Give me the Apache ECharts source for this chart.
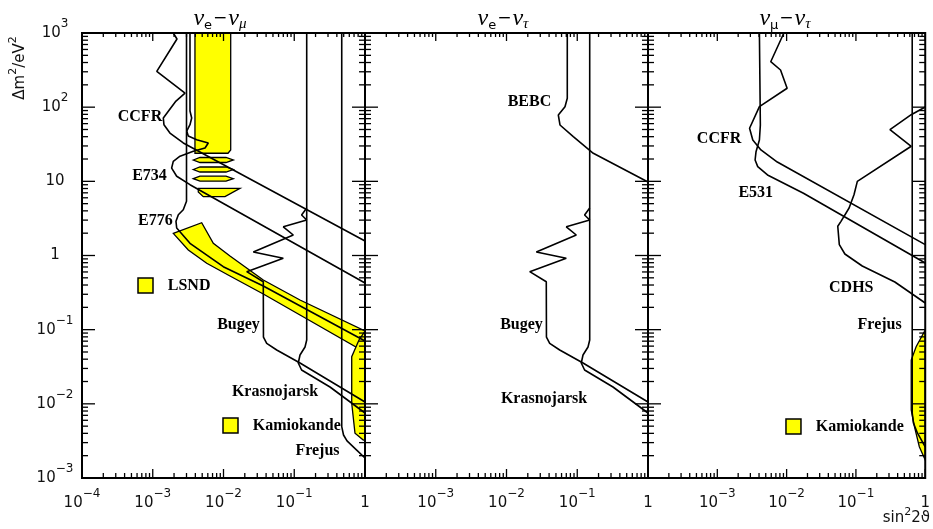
<!DOCTYPE html>
<html>
<head>
<meta charset="utf-8">
<script src="https://cdn.jsdelivr.net/npm/echarts@6/dist/echarts.min.js"></script>
<style>
  html, body { margin: 0; padding: 0; background: #fff; }
  #chart { width: 933px; height: 529px; }
</style>
</head>
<body>
<div id="chart"></div>
<script>
// Axis ranges (sin^2 2theta, Delta m^2 in eV^2)
const X_MIN = 1e-4, X_MAX = 1;
const Y_MIN = 1e-3, Y_MAX = 1e3;
const xDecades = [1e-4, 1e-3, 1e-2, 1e-1, 1];
const yDecades = [1e-3, 1e-2, 1e-1, 1, 10, 100, 1000];

// ---------- nu_e - nu_mu ----------
const ccfrEMu = [[1.95e-3,1000],[2.20e-3,830],[1.87e-3,647],[1.14e-3,304],[2.86e-3,155],[2.13e-3,121],[1.66e-3,88],[1.41e-3,71.4],[1.44e-3,58],[1.75e-3,44.8],[2.70e-3,32.9],[1,1.57]];
const e734 = [[3.36e-3,1000],[3.36e-3,88.8],[3.55e-3,71.4],[3.36e-3,58],[3.02e-3,47.7],[3.18e-3,40.9],[4.18e-3,36.4],[6.10e-3,32.9],[5.48e-3,28.1],[3.74e-3,25.4],[2.43e-3,21.8],[1.95e-3,18.6],[1.85e-3,15.1],[2.18e-3,11.7],[3.36e-3,9.01],[1,0.426]];
const e776 = [[3.0e-3,1000],[3.0e-3,6.54],[3.0e-3,5.38],[2.70e-3,4.14],[2.30e-3,3.55],[2.13e-3,2.89],[2.18e-3,2.35],[3.36e-3,1.46],[9.93e-3,0.706],[3.65e-2,0.388],[1,0.0704]];
const bugey = [[0.150,4.37],[0.127,3.52],[0.150,3.01],[7.0e-2,2.44],[9.69e-2,1.89],[2.64e-2,1.115],[7.0e-2,0.917],[2.13e-2,0.605],[3.65e-2,0.443],[3.67e-2,7.96e-2],[4.08e-2,6.55e-2],[5.65e-2,5.32e-2],[0.1206,3.55e-2],[1,1.059e-2]];
const krasnojarsk = [[0.150,1000],[0.150,7.26e-2],[0.142,5.84e-2],[0.1206,4.56e-2],[0.114,3.55e-2],[0.127,2.86e-2],[0.320,1.687e-2],[1,7.52e-3]];
const frejusEMu = [[0.469,1000],[0.469,4.92e-3],[0.497,3.80e-3],[0.557,3.16e-3],[0.763,2.38e-3],[1,1.86e-3]];

// allowed regions (filled)
const e734Box = [[3.95e-3,1000],[1.264e-2,1000],[1.264e-2,26.5],[1.158e-2,23.9],[3.95e-3,23.9]];
const e734Slice1 = [[3.74e-3,19.4],[4.65e-3,20.96],[1.085e-2,20.96],[1.376e-2,19.4],[1.085e-2,17.95],[4.65e-3,17.95]];
const e734Slice2 = [[3.74e-3,14.44],[4.65e-3,15.61],[1.085e-2,15.61],[1.376e-2,14.44],[1.085e-2,13.36],[4.65e-3,13.36]];
const e734Slice3 = [[3.74e-3,10.85],[4.65e-3,11.73],[1.085e-2,11.73],[1.376e-2,10.85],[1.085e-2,10.04],[4.65e-3,10.04]];
const e734Slice4 = [[4.40e-3,8.06],[1.71e-2,8.06],[1.05e-2,6.21],[5.18e-3,6.21],[4.40e-3,7.18]];
const lsndBand = [[1.95e-3,1.99],[4.92e-3,2.77],[7.18e-3,1.46],[1.235e-2,0.985],[3.65e-2,0.467],[0.1206,0.251],[1,0.0959],[1,0.068],[0.746,5.84e-2],[0.1206,0.1577],[3.65e-2,0.303],[1.235e-2,0.529],[5.79e-3,0.785],[3.18e-3,1.186]];
const kamiokandeEMu = [[1,0.0959],[0.822,7.26e-2],[0.649,4.32e-2],[0.649,1.017e-2],[0.722,4.01e-3],[0.946,3.25e-3],[1,3.25e-3]];

// ---------- nu_e - nu_tau ----------
const bebc = [[7.23e-2,1000],[7.23e-2,131.7],[6.71e-2,101.5],[5.40e-2,78.4],[5.70e-2,57.5],[8.79e-2,40.0],[0.1686,23.9],[1,9.79]];

// ---------- nu_mu - nu_tau ----------
const ccfrMuTau = [[9.13e-3,1000],[5.90e-3,410],[8.17e-3,317],[1.017e-2,180],[4.05e-3,101.5],[2.92e-3,51.9],[3.25e-3,36.1],[4.26e-3,26.5],[7.34e-3,18.2],[1,1.40]];
const e531 = [[4.05e-3,1000],[4.18e-3,57.5],[4.05e-3,36.1],[3.62e-3,25.1],[3.51e-3,19.4],[3.83e-3,15.8],[5.30e-3,12.2],[1.75e-2,6.90],[1,0.792]];
const cdhs = [[1,100.5],[0.628,79.1],[0.3098,49.7],[0.628,29.7],[0.1048,10.0],[9.38e-2,6.60],[7.97e-2,4.37],[6.09e-2,2.89],[5.47e-2,2.48],[5.76e-2,1.40],[6.93e-2,1.048],[0.1234,0.722],[0.3646,0.439],[1,0.229]];
const frejusMuTau = [[0.649,1000],[0.649,7.52e-3],[0.676,5.51e-3],[0.771,4.05e-3],[1,2.62e-3]];
const kamiokandeMuTau = [[1,9.90e-2],[0.739,5.89e-2],[0.628,3.90e-2],[0.628,8.26e-3],[0.699,4.92e-3],[0.822,2.64e-3],[1,1.75e-3]];

// ---------- text labels [text, sin^2 2theta, dm^2] ----------
const labelsEMu = [['CCFR',6.6e-4,74],['E734',9.0e-4,11.8],['E776',1.09e-3,2.92],['Bugey',1.63e-2,0.1156],['Krasnojarsk',5.35e-2,1.445e-2],['Frejus',0.213,2.31e-3]];
const keysEMu = [['LSND',7.9e-4,0.394],['Kamiokande',1.256e-2,5.1e-3]];
const labelsETau = [['BEBC',2.11e-2,118.6],['Bugey',1.63e-2,0.1156],['Krasnojarsk',3.39e-2,1.16e-2]];
const labelsMuTau = [['CCFR',1.06e-3,37.2],['E531',3.59e-3,6.96],['CDHS',8.57e-2,0.365],['Frejus',0.220,0.1156]];
const keysMuTau = [['Kamiokande',1.256e-2,4.95e-3]];

const YELLOW = '#ffff00';
const SANS = 'DejaVu Sans';
const SERIF = 'Liberation Serif';

// tick marks: decades are major, 2..9 x decade are minor
function tickValues(decades) {
  const out = [];
  decades.forEach((d, i) => {
    out.push([d, 1]);
    if (i < decades.length - 1) for (let m = 2; m <= 9; m++) out.push([m * d, 0]);
  });
  return out;
}
const xTickList = tickValues(xDecades);
const yTickList = tickValues(yDecades);

function powLabel(v) {
  const e = Math.round(Math.log10(v));
  if (e === 0) return '{b|1}';
  if (e === 1) return '{b|10}';
  return '{b|10}{s|' + (e < 0 ? '\u2212' + (-e) : String(e)) + '}';
}
const powRich = {
  b: { fontSize: 15, fontFamily: SANS, lineHeight: 30, color: '#111' },
  s: { fontSize: 12, fontFamily: SANS, lineHeight: 14, verticalAlign: 'top', color: '#111' }
};

const grids = [0, 1, 2].map(i => ({ left: 82 + 283 * i, top: 33, width: 283, height: 445, containLabel: false }));

const xAxes = [0, 1, 2].map(i => ({
  type: 'log', logBase: 10, gridIndex: i, min: X_MIN, max: X_MAX,
  axisLine: { show: false }, axisTick: { show: false }, splitLine: { show: false },
  axisLabel: { show: true, showMinLabel: i === 0, margin: 10, formatter: powLabel, rich: powRich }
}));
const yAxes = [0, 1, 2].map(i => ({
  type: 'log', logBase: 10, gridIndex: i, min: Y_MIN, max: Y_MAX,
  axisLine: { show: false }, axisTick: { show: false }, splitLine: { show: false },
  axisLabel: { show: i === 0, align: 'center', margin: 27, formatter: powLabel, rich: powRich }
}));

const LW = 1.6;
function curve(data, g) {
  return { type: 'line', xAxisIndex: g, yAxisIndex: g, data, showSymbol: false, symbol: 'none',
    lineStyle: { color: '#000', width: LW }, silent: true, z: 4, clip: true };
}
function region(points, g) {
  return { type: 'custom', xAxisIndex: g, yAxisIndex: g, data: points, clip: true, silent: true, z: 2,
    renderItem: (params, api) => {
      if (params.dataIndex !== 0) return null;
      return { type: 'polygon', shape: { points: points.map(p => api.coord(p)) },
        style: { fill: YELLOW, stroke: '#000', lineWidth: 1.3 } };
    } };
}
const labelFont = { color: '#000', fontFamily: SERIF, fontWeight: 'bold', fontSize: 16, opacity: 1 };
function textLabels(list, g) {
  return { type: 'scatter', xAxisIndex: g, yAxisIndex: g, symbolSize: 0, silent: true, z: 6,
    itemStyle: { opacity: 1 },
    data: list.map(l => ({ name: l[0], value: [l[1], l[2]] })),
    label: { show: true, position: 'inside', formatter: '{b}', ...labelFont } };
}
function keyBoxes(list, g) {
  return { type: 'scatter', xAxisIndex: g, yAxisIndex: g, symbol: 'rect', symbolSize: 15, silent: true, z: 6,
    itemStyle: { color: YELLOW, borderColor: '#000', borderWidth: 1.5, opacity: 1 },
    data: list.map(l => ({ name: l[0], value: [l[1], l[2]] })),
    label: { show: true, position: 'right', distance: 14, formatter: '{b}', ...labelFont } };
}
// frame and inward tick marks on all four sides of a panel
function frameTicks(g) {
  const xs = { type: 'custom', xAxisIndex: g, yAxisIndex: g, silent: true, z: 10, clip: false,
    data: xTickList.map(t => [t[0], 1, t[1]]),
    renderItem: (params, api) => {
      const v = api.value(0), major = api.value(2) === 1;
      const top = api.coord([v, Y_MAX]), bot = api.coord([v, Y_MIN]);
      const lt = major ? 8 : 4, lb = major ? 9 : 5;
      const st = { stroke: '#000', lineWidth: 1.3 };
      const children = [
        { type: 'line', shape: { x1: top[0], y1: top[1], x2: top[0], y2: top[1] + lt }, style: st },
        { type: 'line', shape: { x1: bot[0], y1: bot[1], x2: bot[0], y2: bot[1] - lb }, style: st }
      ];
      if (params.dataIndex === 0) {
        const a = api.coord([X_MIN, Y_MAX]), b = api.coord([X_MAX, Y_MIN]);
        children.push({ type: 'rect', shape: { x: a[0], y: a[1], width: b[0] - a[0], height: b[1] - a[1] },
          style: { fill: 'none', stroke: '#000', lineWidth: 2 } });
      }
      return { type: 'group', children };
    } };
  const ys = { type: 'custom', xAxisIndex: g, yAxisIndex: g, silent: true, z: 10, clip: false,
    data: yTickList.map(t => [1e-2, t[0], t[1]]),
    renderItem: (params, api) => {
      const v = api.value(1), major = api.value(2) === 1;
      const l = api.coord([X_MIN, v]), r = api.coord([X_MAX, v]);
      const len = major ? 13 : 6;
      const st = { stroke: '#000', lineWidth: 1.3 };
      return { type: 'group', children: [
        { type: 'line', shape: { x1: l[0], y1: l[1], x2: l[0] + len, y2: l[1] }, style: st },
        { type: 'line', shape: { x1: r[0], y1: r[1], x2: r[0] - len, y2: r[1] }, style: st }
      ] };
    } };
  return [xs, ys];
}

const series = [
  // nu_e - nu_mu
  region(e734Box, 0), region(e734Slice1, 0), region(e734Slice2, 0), region(e734Slice3, 0), region(e734Slice4, 0),
  region(lsndBand, 0), region(kamiokandeEMu, 0),
  curve(ccfrEMu, 0), curve(e734, 0), curve(e776, 0), curve(bugey, 0), curve(krasnojarsk, 0), curve(frejusEMu, 0),
  textLabels(labelsEMu, 0), keyBoxes(keysEMu, 0),
  // nu_e - nu_tau
  curve(bebc, 1), curve(bugey, 1), curve(krasnojarsk, 1),
  textLabels(labelsETau, 1),
  // nu_mu - nu_tau
  region(kamiokandeMuTau, 2),
  curve(ccfrMuTau, 2), curve(e531, 2), curve(cdhs, 2), curve(frejusMuTau, 2),
  textLabels(labelsMuTau, 2), keyBoxes(keysMuTau, 2),
  ...frameTicks(0), ...frameTicks(1), ...frameTicks(2)
];

function channelTitle(cx, a, b) {
  return { type: 'text', x: cx, y: 19, z: 20,
    style: { text: '{n|\u03bd}{e|' + a + '}{d|\u2212}{n|\u03bd}{g|' + b + '}', align: 'center', verticalAlign: 'middle',
      rich: {
        n: { fontFamily: SERIF, fontStyle: 'italic', fontSize: 24, lineHeight: 26, fill: '#000' },
        e: { fontFamily: SANS, fontSize: 13, lineHeight: 16, verticalAlign: 'bottom', fill: '#000' },
        g: { fontFamily: SERIF, fontStyle: 'italic', fontSize: 15, lineHeight: 16, verticalAlign: 'bottom', fill: '#000' },
        d: { fontFamily: SANS, fontSize: 17, lineHeight: 26, fill: '#000', padding: [0, 1, 0, 1] }
      } } };
}

const chart = echarts.init(document.getElementById('chart'), null, { renderer: 'canvas' });
chart.setOption({
  animation: false,
  backgroundColor: '#fff',
  grid: grids,
  xAxis: xAxes,
  yAxis: yAxes,
  series,
  graphic: [
    channelTitle(220, 'e', '\u03bc'),
    channelTitle(503, 'e', '\u03c4'),
    channelTitle(785, '\u03bc', '\u03c4'),
    { type: 'text', x: 20, y: 68, rotation: Math.PI / 2, z: 20,
      style: { text: '{b|\u0394m}{s|2}{b|/eV}{s|2}', align: 'center', verticalAlign: 'middle',
        rich: {
          b: { fontFamily: SANS, fontSize: 15, lineHeight: 24, fill: '#111' },
          s: { fontFamily: SANS, fontSize: 11, lineHeight: 12, verticalAlign: 'top', fill: '#111' }
        } } },
    { type: 'text', x: 930, y: 518, z: 20,
      style: { text: '{b|sin}{s|2}{b|2\u03d1}', align: 'right', verticalAlign: 'middle',
        rich: {
          b: { fontFamily: SANS, fontSize: 15, lineHeight: 22, fill: '#111' },
          s: { fontFamily: SANS, fontSize: 11, lineHeight: 12, verticalAlign: 'top', fill: '#111' }
        } } }
  ]
});
</script>
</body>
</html>
